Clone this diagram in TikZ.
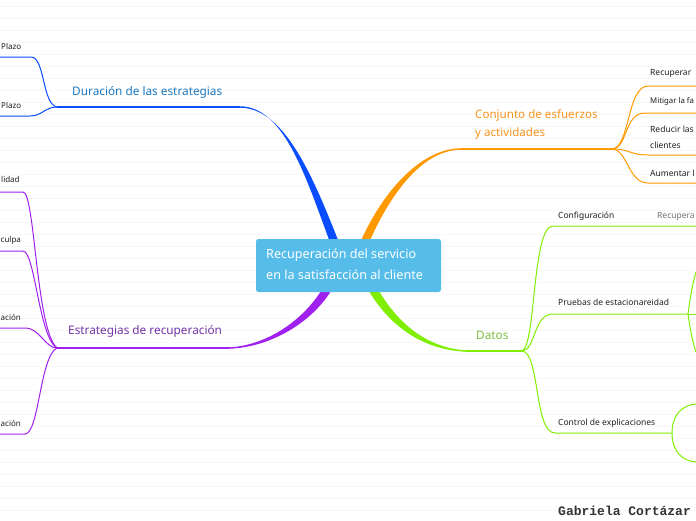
\documentclass[tikz,border=0pt]{standalone}
\usepackage{fontspec}
\setmainfont{Noto Sans}
\newfontfamily\monof{Liberation Mono}
\definecolor{cblue}{HTML}{0A4CFF}
\definecolor{tblue}{HTML}{1B78C0}
\definecolor{corange}{HTML}{FF9900}
\definecolor{torange}{HTML}{F7941D}
\definecolor{cpurple}{HTML}{A020F0}
\definecolor{tpurple}{HTML}{7434A8}
\definecolor{cgreen}{HTML}{80EE00}
\definecolor{tgreen}{HTML}{7CC242}
\definecolor{boxblue}{HTML}{56BDEB}
\definecolor{ruled}{HTML}{F7F7F7}
\begin{document}
\begin{tikzpicture}[x=1pt,y=-1pt,
  leaf/.style={font=\fontsize{8.5}{10}\selectfont, text=black!88, inner sep=0pt},
  edgeleaf/.style={font=\fontsize{8}{10}\selectfont, text=black!88, inner sep=0pt, anchor=west},
  branch/.style={font=\fontsize{11.8}{15}\selectfont, inner sep=0pt, anchor=west, align=left},
  conn/.style={line width=1pt},
  hubline/.style={line width=1.3pt}]
\useasboundingbox (0,0) rectangle (696,520);
\fill[white] (0,0) rectangle (696,520);
\foreach \yy in {6,18,...,518} \draw[ruled, line width=0.5pt] (0,\yy) -- (696,\yy);

% hubs and coordinates
\coordinate (bh) at (57,107);
\coordinate (bj) at (240,107);
\coordinate (ph) at (57,348);
\coordinate (pj) at (230,348);
\coordinate (oh) at (612,149);
\coordinate (oj) at (460,149);
\coordinate (gh) at (522,351);
\coordinate (gj) at (465,351);
\coordinate (l1) at (0,57);
\coordinate (l2) at (0,116);
\coordinate (l3) at (0,192);
\coordinate (l4) at (0,251);
\coordinate (l5) at (0,328);
\coordinate (l6) at (0,434);
\coordinate (r1) at (696,86);
\coordinate (r2) at (696,113);
\coordinate (r3) at (696,155);
\coordinate (r4) at (696,183);
\coordinate (g1) at (696,226);
\coordinate (g2) at (688,314);
\coordinate (g2e) at (696,314);
\coordinate (g2u) at (696,272);
\coordinate (g2d) at (696,352);
\coordinate (g3) at (672,433);
\coordinate (g3u) at (696,404);
\coordinate (g3d) at (696,462);

% thick tapered main branches
\fill[cblue] (240,106.3) .. controls (285,106.3) and (307,181) .. (331,245) -- (340,245) .. controls (314,179) and (285,107.7) .. (240,107.7) -- cycle;
\fill[corange] (460,148.3) .. controls (419,149.3) and (381,194) .. (359,245) -- (368,245) .. controls (389,196) and (421,150.7) .. (460,149.7) -- cycle;
\fill[cpurple] (230,347.3) .. controls (269,345) and (306,318) .. (324,286) -- (334,286) .. controls (314,322) and (271,347) .. (230,348.7) -- cycle;
\fill[cgreen] (366,286) .. controls (386,322) and (418,349) .. (465,351.7) -- (465,350.3) .. controls (422,347) and (394,318) .. (376,286) -- cycle;

% hub lines
\draw[cblue, hubline] (bh) -- (bj);
\draw[cpurple, hubline] (ph) -- (pj);
\draw[corange, hubline] (oj) -- (oh);
\draw[cgreen, hubline] (gj) -- (gh);

% blue leaves
\draw[cblue, conn] (bh) .. controls (42,104) and (45,57) .. (31,57) -- (l1);
\draw[cblue, conn] (bh) .. controls (45,107) and (42,116) .. (30,116) -- (l2);

% purple leaves
\draw[cpurple, conn] (l3) -- (23,192) .. controls (35,192) and (36,330) .. (ph);
\draw[cpurple, conn] (l4) -- (23,251) .. controls (35,251) and (39,338) .. (ph);
\draw[cpurple, conn] (l5) -- (25,328) .. controls (40,328) and (45,348) .. (ph);
\draw[cpurple, conn] (l6) -- (25,434) .. controls (39,434) and (40,356) .. (ph);

% orange leaves
\draw[corange, conn] (oh) .. controls (630,148) and (627,86) .. (648,86) -- (r1);
\draw[corange, conn] (oh) .. controls (628,148) and (624,113) .. (645,113) -- (r2);
\draw[corange, conn] (oh) .. controls (630,149) and (630,155) .. (648,155) -- (r3);
\draw[corange, conn] (oh) .. controls (628,150) and (628,183) .. (648,183) -- (r4);

% green leaves
\draw[cgreen, conn] (gh) .. controls (536,346) and (532,226) .. (553,226) -- (g1);
\draw[cgreen, conn] (gh) .. controls (536,350) and (533,314) .. (553,314) -- (g2);
\draw[cgreen, conn] (gh) .. controls (540,352) and (534,433) .. (555,433) -- (g3);
\draw[cgreen, conn] (g2) -- (g2e);
\draw[cgreen, conn] (g2) .. controls (690,300) and (692,285) .. (g2u);
\draw[cgreen, conn] (g2) .. controls (690,328) and (692,340) .. (g2d);
\draw[cgreen, conn] (g3) .. controls (672,415) and (682,405) .. (g3u);
\draw[cgreen, conn] (g3) .. controls (672,451) and (682,461) .. (g3d);

% central node
\node[fill=boxblue, rounded corners=2.5pt, minimum width=185pt, minimum height=53pt, inner sep=0pt] (center) at (348.5,265.5) {};
\node[anchor=west, inner sep=0pt, text=white, align=left, font=\fontsize{12.6}{21}\selectfont] (ctext) at (266,264.5) {Recuperación del servicio\\en la satisfacción al cliente};

% branch labels
\node[branch, text=tblue] (blab) at (72,92) {Duración de las estrategias};
\node[branch, text=tpurple] (plab) at (68,331) {Estrategias de recuperación};
\node[branch, text=torange, font=\fontsize{11.6}{18}\selectfont] (olab) at (475,124) {Conjunto de esfuerzos\\y actividades};
\node[branch, text=tgreen] (glab) at (476,335) {Datos};

% left leaf labels
\node[edgeleaf] (t1) at (1,46) {Plazo};
\node[edgeleaf] (t2) at (1,105) {Plazo};
\node[edgeleaf] (t3) at (1,179) {lidad};
\node[edgeleaf] (t4) at (0.5,240) {culpa};
\node[edgeleaf] (t5) at (0.5,317) {ación};
\node[edgeleaf] (t6) at (0.5,423) {ación};

% right leaf labels
\node[leaf, anchor=west] (o1) at (650,73) {Recuperar};
\node[leaf, anchor=west, font=\fontsize{7.8}{10}\selectfont] (o2) at (650,101) {Mitigar la fa};
\node[leaf, anchor=west] (o3) at (650,129) {Reducir las};
\node[leaf, anchor=west] (o3b) at (650,145) {clientes};
\node[leaf, anchor=west] (o4) at (650,173) {Aumentar l};

\node[leaf, anchor=west] (d1) at (558,216) {Configuración};
\node[leaf, anchor=west, text=black!55] (d1b) at (657,216) {Recupera};
\node[leaf, anchor=west] (d2) at (558,302) {Pruebas de estacionareidad};
\node[leaf, anchor=west] (d3) at (558,423) {Control de explicaciones};

\node[anchor=west, inner sep=0pt, text=black!80, font=\monof\bfseries\fontsize{13}{15}\selectfont] (author) at (558,511) {Gabriela Cortázar};
\end{tikzpicture}
\end{document}
